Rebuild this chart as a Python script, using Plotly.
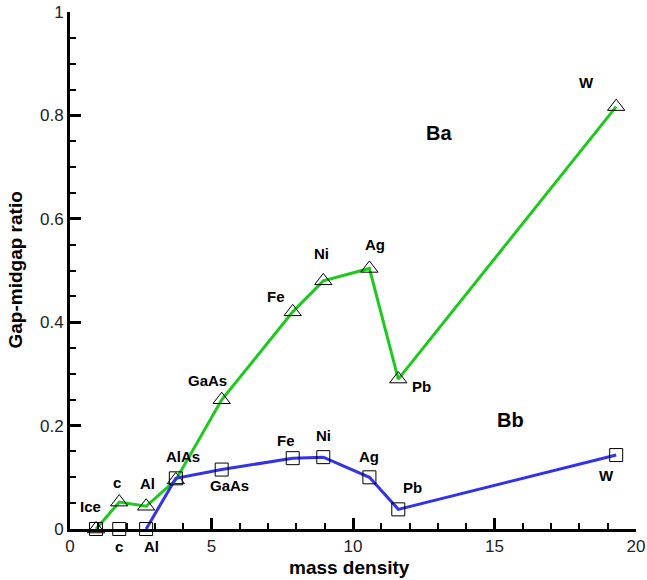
import plotly.graph_objects as go

# Data
materials = ["Ice", "c", "Al", "AlAs", "GaAs", "Fe", "Ni", "Ag", "Pb", "W"]
density = [0.92, 1.74, 2.69, 3.74, 5.36, 7.87, 8.95, 10.58, 11.6, 19.3]
ba_ratio = [0.0, 0.052, 0.044, 0.095, 0.25, 0.42, 0.48, 0.504, 0.29, 0.817]
bb_ratio = [0.0, 0.0, 0.0, 0.098, 0.115, 0.137, 0.139, 0.10, 0.038, 0.143]

# label offsets in pixels (dx, dy), None = no label
ba_offsets = [(-6, 23), (-2, 20), (1, 23), (7, 23), (-14, 19), (-17, 15), (-2, 27), (6, 24), (23, -7), (-30, 24)]
bb_offsets = [None, (0, -17), (5, -17), None, (8, -16), (-7, 18), (0, 22), (0, 21), (14, 22), (-10, -20)]

GREEN = "#1ec81e"
BLUE = "#3232e6"
FONT = "Liberation Sans, Arial, Helvetica, sans-serif"

fig = go.Figure()
fig.add_trace(go.Scatter(
    x=density, y=ba_ratio, mode="lines+markers", name="Ba",
    line=dict(color=GREEN, width=3),
    marker=dict(symbol="triangle-up-open", size=15, color="black", line=dict(width=1, color="black")),
    cliponaxis=False, showlegend=False))
fig.add_trace(go.Scatter(
    x=density[2:], y=bb_ratio[2:], mode="lines", name="Bb",
    line=dict(color=BLUE, width=3), cliponaxis=False, showlegend=False))
fig.add_trace(go.Scatter(
    x=density, y=bb_ratio, mode="markers", name="Bb markers",
    marker=dict(symbol="square-open", size=13, color="black", line=dict(width=1, color="black")),
    cliponaxis=False, showlegend=False))

annotations = []
for name, x, y, off in zip(materials, density, ba_ratio, ba_offsets):
    if off is None:
        continue
    annotations.append(dict(x=x, y=y, xref="x", yref="y", text=f"<b>{name}</b>", showarrow=False,
                            xshift=off[0], yshift=off[1], font=dict(family=FONT, size=15, color="black")))
for name, x, y, off in zip(materials, density, bb_ratio, bb_offsets):
    if off is None:
        continue
    annotations.append(dict(x=x, y=y, xref="x", yref="y", text=f"<b>{name}</b>", showarrow=False,
                            xshift=off[0], yshift=off[1], font=dict(family=FONT, size=15, color="black")))
annotations.append(dict(x=13.05, y=0.766, xref="x", yref="y", text="<b>Ba</b>", showarrow=False,
                        font=dict(family=FONT, size=20, color="black")))
annotations.append(dict(x=15.55, y=0.211, xref="x", yref="y", text="<b>Bb</b>", showarrow=False,
                        font=dict(family=FONT, size=20, color="black")))
# axis titles
annotations.append(dict(x=0.5, y=0, xref="paper", yref="paper", text="<b>mass density</b>", showarrow=False,
                        xanchor="center", yanchor="top", yshift=-26, xshift=-4,
                        font=dict(family=FONT, size=19, color="black")))
annotations.append(dict(x=0, y=0.5, xref="paper", yref="paper", text="<b>Gap-midgap ratio</b>", showarrow=False,
                        textangle=-90, xanchor="center", yanchor="middle", xshift=-55,
                        font=dict(family=FONT, size=19, color="black")))

axis_common = dict(
    showline=True, linewidth=3, linecolor="black", mirror=False,
    ticks="inside", ticklen=11, tickwidth=3, tickcolor="black",
    showgrid=False, zeroline=False, automargin=False,
    tickfont=dict(family=FONT, size=17, color="#222"),
)

fig.update_layout(
    width=647, height=580,
    margin=dict(l=70, r=11, t=12, b=51),
    plot_bgcolor="white", paper_bgcolor="white",
    annotations=annotations,
    xaxis=dict(range=[0, 20], tickmode="linear", tick0=0, dtick=5,
               minor=dict(dtick=1, ticks="inside", ticklen=6, tickwidth=1.5, tickcolor="black"),
               **axis_common),
    yaxis=dict(range=[0, 1], tickmode="linear", tick0=0, dtick=0.2,
               minor=dict(dtick=0.05, ticks="inside", ticklen=6, tickwidth=1.5, tickcolor="black"),
               **axis_common),
)

# remove the browser's default 8px body margin so the figure fills the window exactly
fig.write_html("out.html",
               config={"displayModeBar": False},
               post_script="document.body.style.margin='0';document.body.style.overflow='hidden';")
